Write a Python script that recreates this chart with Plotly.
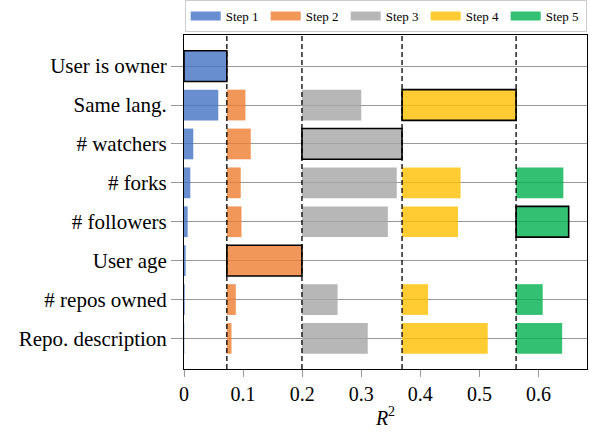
import plotly.graph_objects as go

features = ["User is owner", "Same lang.", "# watchers", "# forks", "# followers",
            "User age", "# repos owned", "Repo. description"]
step_names = ["Step 1", "Step 2", "Step 3", "Step 4", "Step 5"]
# cumulative R^2 reached when adding each feature at each step (None = not evaluated)
step1 = [0.0725, 0.058, 0.0157, 0.0107, 0.0062, 0.0028, 0.0012, 0.0005]
step2 = [None, 0.104, 0.113, 0.096, 0.0973, 0.1996, 0.0877, 0.0804]
step3 = [None, 0.300, 0.369, 0.360, 0.345, None, 0.260, 0.311]
step4 = [None, 0.562, None, 0.468, 0.4637, None, 0.413, 0.514]
step5 = [None, None, None, 0.642, 0.651, None, 0.607, 0.640]
steps = [step1, step2, step3, step4, step5]
colors = ["rgba(68,114,196,0.8)", "rgba(237,125,49,0.8)", "rgba(165,165,165,0.8)",
          "rgba(255,192,0,0.8)", "rgba(0,176,80,0.8)"]
x_ticks = [0, 0.1, 0.2, 0.3, 0.4, 0.5, 0.6]

FONT = "Liberation Serif"
fig = go.Figure()
base = 0.0
thresholds = []
for name, vals, col in zip(step_names, steps, colors):
    valid = [(i, v) for i, v in enumerate(vals) if v is not None]
    best_i = max(valid, key=lambda t: t[1])[0]
    ys = [features[i] for i, _ in valid]
    xs = [v - base for _, v in valid]
    lw = [1.6 if i == best_i else 0 for i, _ in valid]
    fig.add_trace(go.Bar(
        y=ys, x=xs, base=[base] * len(xs), orientation="h", width=0.79,
        marker=dict(color=col, line=dict(color="black", width=lw)),
        showlegend=False, hoverinfo="skip"))
    # legend entry
    fig.add_trace(go.Scatter(x=[None], y=[None], mode="lines", name=name,
                             line=dict(color=col, width=9)))
    base = vals[best_i]
    thresholds.append(base)

for t in thresholds[:-1]:
    fig.add_shape(type="line", xref="x", yref="paper", x0=t, x1=t, y0=0, y1=1,
                  line=dict(color="black", width=1.3, dash="5px,3px"))

fig.update_layout(
    width=590, height=438,
    margin=dict(l=184, r=2, t=33, b=69),
    paper_bgcolor="white", plot_bgcolor="white",
    barmode="overlay",
    font=dict(family=FONT, size=20, color="black"),
    legend=dict(orientation="h", xref="container", yref="container",
                x=0.313, y=1.0, xanchor="left", yanchor="top",
                font=dict(family=FONT, size=13, color="black"),
                bordercolor="#cccccc", borderwidth=1,
                entrywidth=35, entrywidthmode="pixels",
                itemwidth=30, tracegroupgap=0),
    xaxis=dict(range=[0, 0.682], tickvals=x_ticks, ticktext=[str(v) if v else "0" for v in x_ticks],
               showgrid=False, zeroline=False, showline=True, linecolor="black",
               linewidth=1, mirror=True, ticks="outside", ticklen=7, tickcolor="#999999",
               tickfont=dict(family=FONT, size=20),
               title=dict(text="<i>R</i><sup>2</sup>", font=dict(family=FONT, size=20), standoff=6)),
    yaxis=dict(type="category", categoryorder="array", categoryarray=features,
               range=[7.785, -0.8], showgrid=True, gridcolor="#999999", gridwidth=1,
               zeroline=False, showline=True, linecolor="black", linewidth=1, mirror=True,
               ticks="outside", ticklen=12, tickcolor="#999999",
               tickfont=dict(family=FONT, size=21)),
)

fig.write_html("out.html")
